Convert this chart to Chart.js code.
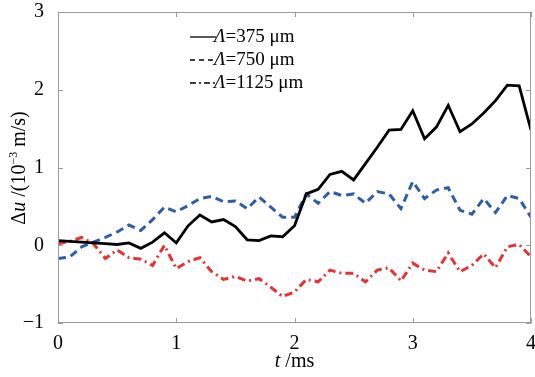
<!DOCTYPE html>
<html>
<head>
<meta charset="utf-8">
<script src="https://cdn.jsdelivr.net/npm/chart.js@4.4.0/dist/chart.umd.min.js"></script>
<style>
  html, body { margin: 0; padding: 0; background: #fff; }
  #wrap { width: 535px; height: 377px; }
</style>
</head>
<body>
<div id="wrap"><canvas id="duChart"></canvas></div>
<script>
// time axis (ms)
const times = [0, 0.1, 0.2, 0.3, 0.4, 0.5, 0.6, 0.7, 0.8, 0.9, 1.0, 1.1, 1.2, 1.3, 1.4, 1.5, 1.6, 1.7, 1.8, 1.9, 2.0,
  2.1, 2.2, 2.3, 2.4, 2.5, 2.6, 2.7, 2.8, 2.9, 3.0, 3.1, 3.2, 3.3, 3.4, 3.5, 3.6, 3.7, 3.8, 3.9, 4.0];

// delta u (10^-3 m/s)
const du375 = [0.06, 0.05, 0.04, 0.03, 0.02, 0.01, 0.03, -0.04, 0.04, 0.16, 0.03, 0.25, 0.39, 0.30, 0.33, 0.24, 0.07, 0.06, 0.12, 0.11, 0.25,
  0.66, 0.72, 0.91, 0.95, 0.84, 1.05, 1.26, 1.48, 1.49, 1.73, 1.37, 1.52, 1.80, 1.46, 1.56, 1.70, 1.86, 2.06, 2.05, 1.48];
const du750 = [-0.17, -0.15, -0.02, 0.04, 0.10, 0.17, 0.26, 0.19, 0.33, 0.49, 0.43, 0.51, 0.60, 0.63, 0.56, 0.57, 0.47, 0.62, 0.49, 0.36, 0.36,
  0.66, 0.54, 0.69, 0.64, 0.66, 0.54, 0.69, 0.66, 0.47, 0.82, 0.60, 0.71, 0.74, 0.45, 0.40, 0.60, 0.42, 0.64, 0.60, 0.36];
const du1125 = [0.02, 0.05, 0.10, 0.02, -0.17, -0.06, -0.16, -0.18, -0.26, 0.00, -0.30, -0.21, -0.16, -0.34, -0.44, -0.40, -0.46, -0.43, -0.54, -0.66, -0.60,
  -0.44, -0.47, -0.32, -0.36, -0.36, -0.47, -0.32, -0.29, -0.46, -0.23, -0.32, -0.34, -0.10, -0.34, -0.26, -0.11, -0.29, -0.02, 0.01, -0.15];

const legendLabels = ['=375 μm', '=750 μm', '=1125 μm'];
const xTicks = [0, 1, 2, 3, 4];
const yTicks = [-1, 0, 1, 2, 3];

const serif = '"Liberation Serif", "DejaVu Serif", serif';

function pts(arr) {
  return arr.map((v, i) => ({ x: times[i], y: v }));
}

// frame, inward ticks, axis titles and legend
const decor = {
  id: 'decor',
  afterDraw(chart) {
    const ctx = chart.ctx;
    const a = chart.chartArea;
    const xs = chart.scales.x;
    const ys = chart.scales.y;
    ctx.save();
    ctx.strokeStyle = '#9a9a9a';
    ctx.lineWidth = 1;
    ctx.strokeRect(a.left + 0.5, a.top + 0.5, a.right - a.left - 1, a.bottom - a.top - 1);
    ctx.beginPath();
    xTicks.forEach(t => {
      const px = Math.round(xs.getPixelForValue(t)) + 0.5;
      ctx.moveTo(px, a.bottom); ctx.lineTo(px, a.bottom - 5);
      ctx.moveTo(px, a.top); ctx.lineTo(px, a.top + 5);
    });
    yTicks.forEach(t => {
      const py = Math.round(ys.getPixelForValue(t)) + 0.5;
      ctx.moveTo(a.left, py); ctx.lineTo(a.left + 5, py);
      ctx.moveTo(a.right, py); ctx.lineTo(a.right - 5, py);
    });
    ctx.stroke();

    // x title
    ctx.fillStyle = '#000';
    ctx.textBaseline = 'middle';
    const xt1 = 'italic 20px ' + serif, xt2 = '20px ' + serif;
    ctx.font = xt1; const w1 = ctx.measureText('t').width;
    ctx.font = xt2; const w2 = ctx.measureText(' /ms').width;
    let sx = (a.left + a.right) / 2 - (w1 + w2) / 2;
    ctx.font = xt1; ctx.fillText('t', sx, 362);
    ctx.font = xt2; ctx.fillText(' /ms', sx + w1, 362);

    // y title (rotated)
    ctx.save();
    ctx.translate(20, 168);
    ctx.rotate(-Math.PI / 2);
    const parts = [['Δ', false], ['u', true], [' /(10', false], ['−3', false, true], [' m/s)', false]];
    let total = 0;
    parts.forEach(p => {
      ctx.font = (p[1] ? 'italic ' : '') + (p[2] ? '12px ' : '20px ') + serif;
      total += ctx.measureText(p[0]).width;
    });
    let cx = -total / 2;
    parts.forEach(p => {
      ctx.font = (p[1] ? 'italic ' : '') + (p[2] ? '12px ' : '20px ') + serif;
      ctx.fillText(p[0], cx, p[2] ? -6 : 0);
      cx += ctx.measureText(p[0]).width;
    });
    ctx.restore();

    // legend
    const rows = [37, 60, 83];
    chart.data.datasets.forEach((ds, i) => {
      const y = rows[i];
      ctx.strokeStyle = '#000';
      ctx.lineWidth = 1.3;
      ctx.setLineDash(i === 0 ? [] : (i === 1 ? [5, 4] : [6, 3, 2, 3]));
      ctx.beginPath();
      ctx.moveTo(190, y); ctx.lineTo(216, y);
      ctx.stroke();
      ctx.setLineDash([]);
      ctx.font = 'italic 19px ' + serif;
      ctx.fillText('Λ', 214, y);
      const lw = ctx.measureText('Λ').width;
      ctx.font = '19px ' + serif;
      ctx.fillText(legendLabels[i], 214 + lw, y);
    });
    ctx.restore();
  }
};

const ctxDu = document.getElementById('duChart').getContext('2d');

const duChart = new Chart(ctxDu, {
  type: 'line',
  data: {
    datasets: [{
      label: 'Λ=375 μm',
      data: pts(du375),
      borderColor: '#000000',
      borderWidth: 2.8
    }, {
      label: 'Λ=750 μm',
      data: pts(du750),
      borderColor: '#2f5ea8',
      borderWidth: 3,
      borderDash: [8, 5]
    }, {
      label: 'Λ=1125 μm',
      data: pts(du1125),
      borderColor: '#e53232',
      borderWidth: 3,
      borderDash: [8, 4, 2, 4]
    }]
  },
  options: {
    responsive: true,
    maintainAspectRatio: false,
    animation: false,
    elements: { point: { radius: 0 }, line: { tension: 0 } },
    layout: { padding: { top: 12, right: 4, left: 0, bottom: 0 } },
    plugins: { legend: { display: false }, tooltip: { enabled: false } },
    scales: {
      x: {
        type: 'linear',
        min: 0,
        max: 4,
        afterBuildTicks: s => { s.ticks = xTicks.map(v => ({ value: v })); },
        afterFit: s => { s.height = 54; s.paddingLeft = 0; s.paddingRight = 0; },
        grid: { display: false },
        border: { display: false },
        ticks: { color: '#000', font: { family: serif, size: 20 }, padding: 1, maxRotation: 0 }
      },
      y: {
        min: -1,
        max: 3,
        afterBuildTicks: s => { s.ticks = yTicks.map(v => ({ value: v })); },
        afterFit: s => { s.width = 58; s.paddingTop = 0; s.paddingBottom = 0; },
        grid: { display: false },
        border: { display: false },
        ticks: {
          color: '#000',
          font: { family: serif, size: 20 },
          padding: 6,
          callback: v => (v < 0 ? '−' + Math.abs(v) : String(v))
        }
      }
    }
  },
  plugins: [decor]
});
</script>
</body>
</html>
